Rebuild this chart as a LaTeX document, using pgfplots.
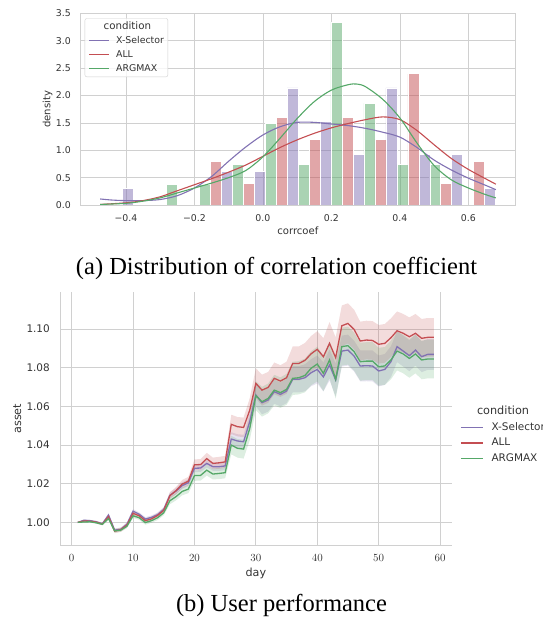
\documentclass[border=0pt]{standalone}
\usepackage{fontspec}
\setmainfont{Liberation Serif}
\newfontfamily\dejavu{DejaVu Sans}
\usepackage{pgfplots}
\usepackage{pgfplotstable}
\pgfplotsset{compat=1.18}
\usepgfplotslibrary{fillbetween}

\definecolor{xsel}{HTML}{8172B3}
\definecolor{allr}{HTML}{C44E52}
\definecolor{argm}{HTML}{55A868}
\definecolor{gridc}{HTML}{D0D0D0}
\definecolor{txt}{HTML}{333333}

% day, mean asset per condition, half width of the confidence band
\pgfplotstableread{
day xs all arg xh ah gh
1 1.0000 1.0000 1.0000 0 0 0
2 1.0011 1.0007 1.0002 0.0004 0.0005 0.0004
3 1.0009 1.0006 1.0003 0.0004 0.0005 0.0004
4 1.0003 1.0001 0.9998 0.0005 0.0006 0.0005
5 0.9993 0.9991 0.9990 0.0005 0.0006 0.0005
6 1.0038 1.0030 1.0020 0.0008 0.0009 0.0008
7 0.9960 0.9955 0.9956 0.0009 0.0011 0.0009
8 0.9964 0.9962 0.9960 0.0009 0.0011 0.0009
9 0.9990 0.9986 0.9980 0.0010 0.0012 0.0010
10 1.0058 1.0047 1.0034 0.0010 0.0012 0.0011
11 1.0042 1.0034 1.0024 0.0010 0.0012 0.0011
12 1.0017 1.0009 0.9999 0.0010 0.0012 0.0011
13 1.0026 1.0018 1.0009 0.0010 0.0012 0.0011
14 1.0040 1.0036 1.0024 0.0011 0.0013 0.0012
15 1.0067 1.0062 1.0050 0.0012 0.0014 0.0013
16 1.0140 1.0138 1.0112 0.0015 0.0018 0.0018
17 1.0162 1.0164 1.0133 0.0016 0.0019 0.0019
18 1.0190 1.0198 1.0160 0.0017 0.0021 0.0020
19 1.0205 1.0213 1.0172 0.0018 0.0022 0.0021
20 1.0280 1.0298 1.0242 0.0020 0.0028 0.0027
21 1.0281 1.0299 1.0243 0.0020 0.0028 0.0027
22 1.0305 1.0330 1.0270 0.0021 0.0030 0.0028
23 1.0288 1.0305 1.0250 0.0021 0.0030 0.0028
24 1.0288 1.0308 1.0253 0.0022 0.0031 0.0029
25 1.0292 1.0313 1.0257 0.0022 0.0031 0.0029
26 1.0431 1.0507 1.0400 0.0035 0.0050 0.0048
27 1.0421 1.0495 1.0383 0.0035 0.0050 0.0048
28 1.0417 1.0491 1.0379 0.0036 0.0051 0.0049
29 1.0520 1.0580 1.0485 0.0045 0.0062 0.0060
30 1.0659 1.0719 1.0655 0.0058 0.0078 0.0075
31 1.0619 1.0684 1.0624 0.0060 0.0080 0.0077
32 1.0633 1.0698 1.0641 0.0060 0.0080 0.0077
33 1.0676 1.0745 1.0684 0.0062 0.0082 0.0079
34 1.0662 1.0731 1.0671 0.0062 0.0082 0.0079
35 1.0679 1.0748 1.0688 0.0063 0.0083 0.0080
36 1.0740 1.0822 1.0745 0.0068 0.0088 0.0086
37 1.0740 1.0822 1.0748 0.0068 0.0088 0.0086
38 1.0748 1.0838 1.0760 0.0070 0.0090 0.0087
39 1.0774 1.0872 1.0797 0.0070 0.0092 0.0088
40 1.0791 1.0895 1.0819 0.0072 0.0094 0.0090
41 1.0752 1.0857 1.0771 0.0075 0.0096 0.0092
42 1.0814 1.0926 1.0840 0.0080 0.0110 0.0095
43 1.0736 1.0852 1.0740 0.0085 0.0105 0.0100
44 1.0886 1.1017 1.0909 0.0080 0.0105 0.0098
45 1.0891 1.1029 1.0914 0.0080 0.0104 0.0098
46 1.0860 1.0998 1.0883 0.0080 0.0102 0.0098
47 1.0809 1.0938 1.0831 0.0080 0.0100 0.0098
48 1.0810 1.0943 1.0834 0.0080 0.0100 0.0098
49 1.0809 1.0941 1.0834 0.0080 0.0100 0.0098
50 1.0783 1.0921 1.0805 0.0080 0.0100 0.0098
51 1.0791 1.0926 1.0809 0.0080 0.0100 0.0098
52 1.0831 1.0955 1.0840 0.0080 0.0100 0.0100
53 1.0909 1.0991 1.0886 0.0080 0.0100 0.0100
54 1.0886 1.0978 1.0871 0.0080 0.0100 0.0100
55 1.0862 1.0960 1.0848 0.0080 0.0100 0.0100
56 1.0891 1.0978 1.0871 0.0080 0.0100 0.0100
57 1.0857 1.0952 1.0840 0.0080 0.0100 0.0100
58 1.0869 1.0957 1.0845 0.0080 0.0100 0.0100
59 1.0869 1.0957 1.0845 0.0080 0.0100 0.0100
}\perf

\begin{document}
\begin{tikzpicture}[x=1bp,y=1bp]

% ---------- (a) histogram + kde ----------
\begin{axis}[
  at={(80bp,421bp)}, anchor=south west,
  scale only axis, width=435.7bp, height=191.5bp,
  xmin=-0.534, xmax=0.738, ymin=0, ymax=3.5,
  xtick={-0.4,-0.2,0,0.2,0.4,0.6},
  xticklabels={−0.4,−0.2,0.0,0.2,0.4,0.6},
  ytick={0,0.5,1,1.5,2,2.5,3,3.5},
  yticklabels={0.0,0.5,1.0,1.5,2.0,2.5,3.0,3.5},
  grid=major, major grid style={gridc, line width=0.8bp},
  axis line style={gridc, line width=0.9bp},
  major tick length=0pt,
  tick label style={font=\dejavu\fontsize{9.4}{11}\selectfont, text=txt, inner sep=0pt},
  xticklabel style={anchor=center, yshift=-13.3bp},
  yticklabel style={anchor=east, xshift=-9bp},
  xlabel={corrcoef}, ylabel={density},
  label style={font=\dejavu\fontsize{10.1}{12}\selectfont, text=txt},
  xlabel style={at={(axis description cs:0.5,-0.134)}, anchor=center},
  ylabel style={at={(axis description cs:-0.0742,0.5)}, anchor=center},
  legend cell align=left,
  legend image code/.code={\draw[#1] (0bp,0bp) -- (19.6bp,0bp);},
  legend style={at={(0.0108,0.975)}, anchor=north west,
    draw=gridc, fill=white, fill opacity=0.8, text opacity=1, rounded corners=2bp,
    inner xsep=4bp, inner ysep=1.2bp, column sep=6.5bp,
    nodes={inner xsep=0bp, inner ysep=2.5bp, text height=7bp, text depth=2bp,
      font=\dejavu\fontsize{9.4}{11}\selectfont}},
]
\addlegendimage{empty legend}
\addlegendentry[font=\dejavu\fontsize{10.3}{12}\selectfont]{\hspace*{-12.5bp}\textcolor{txt}{condition}}

% bars: green, red, purple side by side in each bin
\addplot[ybar, bar width=0.0321, bar shift=0pt, fill=argm, fill opacity=0.5, draw=white, line width=0.8bp, forget plot]
  coordinates {(-0.2665,0.371) (-0.1702,0.371) (-0.0740,0.742) (0.0223,1.484) (0.1185,0.742)
    (0.2148,3.340) (0.3110,1.855) (0.4073,0.742) (0.5035,0.742)};
\addplot[ybar, bar width=0.0321, bar shift=0pt, fill=allr, fill opacity=0.5, draw=white, line width=0.8bp, forget plot]
  coordinates {(-0.1381,0.799) (-0.0419,0.400) (0.0544,1.598) (0.1506,1.199) (0.2469,1.598)
    (0.3431,1.199) (0.4394,2.398) (0.5356,0.400) (0.6319,0.799)};
\addplot[ybar, bar width=0.0321, bar shift=0pt, fill=xsel, fill opacity=0.5, draw=white, line width=0.8bp, forget plot]
  coordinates {(-0.3948,0.306) (-0.1060,0.611) (-0.0098,0.611) (0.0865,2.139) (0.1827,1.528)
    (0.2790,0.917) (0.3752,2.139) (0.4715,0.917) (0.5677,0.917) (0.6640,0.306)};

% kde curves
\addplot[xsel, line width=1.1bp, smooth] coordinates {
  (-0.475,0.11) (-0.44,0.09) (-0.40,0.08) (-0.35,0.08) (-0.30,0.10) (-0.25,0.17)
  (-0.20,0.31) (-0.15,0.52) (-0.10,0.80) (-0.05,1.06) (0.0,1.28) (0.05,1.43)
  (0.10,1.51) (0.15,1.51) (0.20,1.48) (0.25,1.45) (0.30,1.40) (0.35,1.33)
  (0.40,1.24) (0.45,1.05) (0.50,0.82) (0.55,0.64) (0.60,0.49) (0.65,0.36) (0.68,0.28)};
\addlegendentry{\textcolor{txt}{X-Selector}}
\addplot[allr, line width=1.1bp, smooth] coordinates {
  (-0.475,0.01) (-0.40,0.04) (-0.35,0.08) (-0.30,0.15) (-0.25,0.26) (-0.20,0.37)
  (-0.15,0.48) (-0.10,0.60) (-0.05,0.73) (0.0,0.89) (0.05,1.05) (0.10,1.19)
  (0.15,1.31) (0.20,1.41) (0.25,1.49) (0.30,1.56) (0.35,1.61) (0.40,1.56)
  (0.45,1.36) (0.50,1.10) (0.55,0.85) (0.60,0.65) (0.65,0.48) (0.68,0.38)};
\addlegendentry{\textcolor{txt}{ALL}}
\addplot[argm, line width=1.1bp, smooth] coordinates {
  (-0.475,0.01) (-0.40,0.03) (-0.35,0.07) (-0.30,0.13) (-0.25,0.22) (-0.20,0.31)
  (-0.15,0.40) (-0.10,0.50) (-0.05,0.63) (0.0,0.88) (0.05,1.22) (0.10,1.58)
  (0.15,1.89) (0.20,2.10) (0.25,2.20) (0.275,2.21) (0.30,2.16) (0.35,1.93)
  (0.40,1.59) (0.45,1.13) (0.50,0.72) (0.55,0.46) (0.60,0.31) (0.65,0.19) (0.68,0.13)};
\addlegendentry{\textcolor{txt}{ARGMAX}}
\end{axis}

\node[font=\fontsize{24.6}{28}\selectfont] at (276.5,358) {(a) Distribution of correlation coefficient};

% ---------- (b) asset over days ----------
\begin{axis}[
  at={(60bp,81bp)}, anchor=south west,
  scale only axis, width=391.7bp, height=252.7bp,
  xmin=-1.9, xmax=61.9, ymin=0.9883, ymax=1.119,
  xtick={0,10,20,30,40,50,60},
  ytick={1,1.02,1.04,1.06,1.08,1.1},
  yticklabels={1.00,1.02,1.04,1.06,1.08,1.10},
  axis x line*=bottom, axis y line*=left,
  grid=major, major grid style={gridc, line width=0.8bp},
  axis line style={gridc, line width=0.9bp, -},
  major tick length=0pt,
  tick label style={font=\dejavu\fontsize{10.5}{12}\selectfont, text=txt, inner sep=0pt},
  xticklabel style={anchor=center, yshift=-12.7bp},
  yticklabel style={anchor=east, xshift=-10bp},
  xlabel={day}, ylabel={asset},
  label style={font=\dejavu\fontsize{11.2}{13}\selectfont, text=txt},
  xlabel style={at={(axis description cs:0.5,-0.112)}, anchor=center},
  ylabel style={at={(axis description cs:-0.109,0.5)}, anchor=center},
  legend cell align=left,
  legend image code/.code={\draw[#1] (0bp,0bp) -- (22bp,0bp);},
  legend style={at={(1.0212,0.558)}, anchor=north west,
    draw=none, fill=none, inner sep=0bp, column sep=8bp,
    nodes={inner xsep=0bp, inner ysep=2.25bp, text height=8.5bp, text depth=2.5bp,
      font=\dejavu\fontsize{10.5}{12}\selectfont}},
]
\addlegendimage{empty legend}
\addlegendentry[font=\dejavu\fontsize{11.3}{13}\selectfont]{\hspace*{-14.5bp}\textcolor{txt}{condition}}

\addplot[name path=xhi, draw=none, forget plot] table[x=day, y expr=\thisrow{xs}+\thisrow{xh}] {\perf};
\addplot[name path=xlo, draw=none, forget plot] table[x=day, y expr=\thisrow{xs}-\thisrow{xh}] {\perf};
\addplot[fill=xsel, fill opacity=0.2, draw=none, forget plot] fill between[of=xhi and xlo];
\addplot[name path=ahi, draw=none, forget plot] table[x=day, y expr=\thisrow{all}+\thisrow{ah}] {\perf};
\addplot[name path=alo, draw=none, forget plot] table[x=day, y expr=\thisrow{all}-\thisrow{ah}] {\perf};
\addplot[fill=allr, fill opacity=0.2, draw=none, forget plot] fill between[of=ahi and alo];
\addplot[name path=ghi, draw=none, forget plot] table[x=day, y expr=\thisrow{arg}+\thisrow{gh}] {\perf};
\addplot[name path=glo, draw=none, forget plot] table[x=day, y expr=\thisrow{arg}-\thisrow{gh}] {\perf};
\addplot[fill=argm, fill opacity=0.2, draw=none, forget plot] fill between[of=ghi and glo];

\addplot[xsel, line width=1.3bp] table[x=day, y=xs] {\perf};
\addlegendentry{\textcolor{txt}{X-Selector}}
\addplot[allr, line width=1.3bp] table[x=day, y=all] {\perf};
\addlegendentry{\textcolor{txt}{ALL}}
\addplot[argm, line width=1.3bp] table[x=day, y=arg] {\perf};
\addlegendentry{\textcolor{txt}{ARGMAX}}
\end{axis}

\node[font=\fontsize{24.6}{28}\selectfont] at (281.5,21) {(b) User performance};

\pgfresetboundingbox
\useasboundingbox (0,0) rectangle (543,626);
\end{tikzpicture}
\end{document}
